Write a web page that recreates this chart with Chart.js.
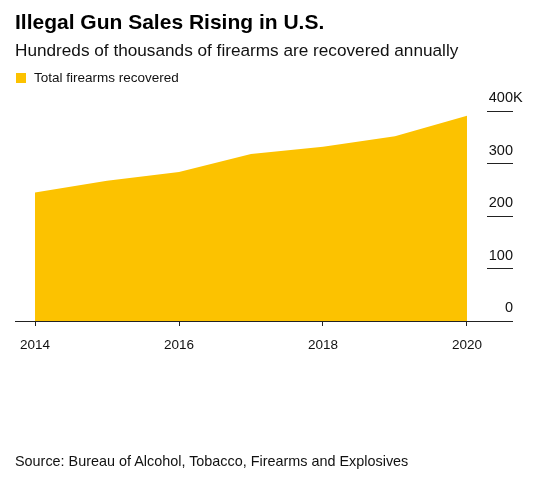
<!DOCTYPE html>
<html>
<head>
<meta charset="utf-8">
<script src="https://cdn.jsdelivr.net/npm/chart.js@4/dist/chart.umd.min.js"></script>
<style>
  html, body { margin: 0; padding: 0; background: #fff; }
  body { width: 535px; height: 487px; position: relative; overflow: hidden; font-family: "Liberation Sans", Arial, sans-serif; color: #111; }
  .t { position: absolute; left: 15px; white-space: nowrap; }
  #title { top: 10px; font-size: 21px; font-weight: bold; letter-spacing: 0px; line-height: 24px; color: #000; }
  #subtitle { top: 40px; font-size: 17.2px; line-height: 20px; color: #111; }
  #legend { top: 70px; left: 16px; font-size: 13.5px; line-height: 16px; color: #111; }
  #legend .sw { display: inline-block; width: 10px; height: 10px; background: #fcc200; margin-right: 8px; vertical-align: -1px; }
  #source { top: 452px; font-size: 14.4px; line-height: 18px; color: #111; }
  #wrap { position: absolute; left: 0; top: 0; width: 535px; height: 487px; }
</style>
</head>
<body>
<div id="wrap"><canvas id="c" width="535" height="487"></canvas></div>
<div class="t" id="title">Illegal Gun Sales Rising in U.S.</div>
<div class="t" id="subtitle">Hundreds of thousands of firearms are recovered annually</div>
<div class="t" id="legend"><span class="sw"></span>Total firearms recovered</div>
<div class="t" id="source">Source: Bureau of Alcohol, Tobacco, Firearms and Explosives</div>
<script>
const years = [2014, 2015, 2016, 2017, 2018, 2019, 2020];
const recovered = [245, 267, 284, 318, 332, 352, 391]; // thousands
const xTickYears = [2014, 2016, 2018, 2020];
const yTicks = [0, 100, 200, 300, 400];
const yUnitSuffix = 'K';
const seriesLabel = 'Total firearms recovered';

const points = years.map((y, i) => ({ x: y, y: recovered[i] }));
const yFont = { family: 'Liberation Sans, Arial, sans-serif', size: 14.5 };
const yLabelOffset = -13;

const suffixPlugin = {
  id: 'suffix',
  afterDraw(chart) {
    const s = chart.scales.y;
    const top = yTicks[yTicks.length - 1];
    const ctx = chart.ctx;
    ctx.save();
    ctx.font = yFont.size + 'px ' + yFont.family;
    ctx.fillStyle = '#111';
    ctx.textAlign = 'left';
    ctx.textBaseline = 'middle';
    ctx.fillText(yUnitSuffix, s.right, s.getPixelForValue(top) + yLabelOffset);
    ctx.restore();
  }
};

new Chart(document.getElementById('c'), {
  type: 'line',
  data: {
    datasets: [{
      label: seriesLabel,
      data: points,
      fill: 'origin',
      backgroundColor: '#fcc200',
      borderWidth: 0,
      borderColor: '#fcc200',
      pointRadius: 0,
      tension: 0
    }]
  },
  plugins: [suffixPlugin],
  options: {
    responsive: false,
    animation: false,
    devicePixelRatio: 1,
    layout: { padding: { left: 15, right: 22, top: 111, bottom: 136 } },
    plugins: { legend: { display: false }, tooltip: { enabled: false }, title: { display: false } },
    scales: {
      x: {
        type: 'linear',
        min: 2013.722,
        max: 2020.278,
        afterBuildTicks: (s) => { s.ticks = xTickYears.map(v => ({ value: v })); },
        afterFit: (s) => { s.height = 30; },
        border: { display: true, color: '#222', width: 1 },
        grid: { drawOnChartArea: false, drawTicks: true, tickLength: 5, color: '#222' },
        ticks: {
          autoSkip: false, maxRotation: 0,
          padding: 11,
          color: '#111',
          font: { family: 'Liberation Sans, Arial, sans-serif', size: 13.5 },
          callback: (v) => String(v)
        }
      },
      y: {
        position: 'right',
        min: 0,
        max: 400,
        afterBuildTicks: (s) => { s.ticks = yTicks.map(v => ({ value: v })); },
        afterFit: (s) => { s.width = 26; },
        border: { display: false },
        grid: { drawOnChartArea: false, drawTicks: true, tickLength: 26, color: '#222' },
        ticks: {
          crossAlign: 'far',
          labelOffset: yLabelOffset,
          padding: 0,
          color: '#111',
          font: yFont,
          callback: (v) => String(v)
        }
      }
    }
  }
});
</script>
</body>
</html>
